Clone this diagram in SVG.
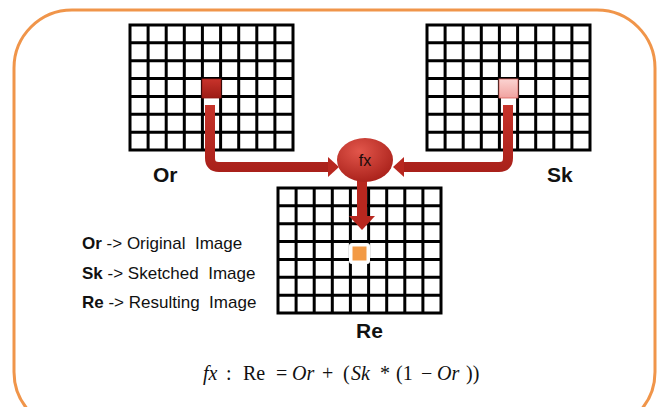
<svg xmlns="http://www.w3.org/2000/svg" width="658" height="407" viewBox="0 0 658 407">
<style>
.gl{stroke:#000;stroke-width:3;fill:none}
.lbl{font-family:"Liberation Sans",Arial,sans-serif;font-weight:bold;font-size:21px;fill:#111}
.leg{font-family:"Liberation Sans",Arial,sans-serif;font-size:17px;fill:#111}
.legb{font-weight:bold}
.arr{fill:none;stroke:url(#arrG);stroke-width:10;stroke-linejoin:round}
.eq{font-family:"Liberation Serif","Times New Roman",serif;font-size:20px;fill:#111}
.it{font-style:italic}
</style>
<defs>
<linearGradient id="arrG" gradientUnits="userSpaceOnUse" x1="0" y1="100" x2="0" y2="180">
<stop offset="0" stop-color="#c8352c"/><stop offset="1" stop-color="#a51e18"/>
</linearGradient>
<linearGradient id="redCell" x1="0" y1="0" x2="0" y2="1">
<stop offset="0" stop-color="#c8332b"/><stop offset="1" stop-color="#9c1b15"/>
</linearGradient>
<linearGradient id="pinkCell" x1="0" y1="0" x2="0" y2="1">
<stop offset="0" stop-color="#fbd3d1"/><stop offset="1" stop-color="#f1a3a0"/>
</linearGradient>
<radialGradient id="ellG" cx="0.4" cy="0.3" r="0.8">
<stop offset="0" stop-color="#e2564b"/><stop offset="1" stop-color="#a41c16"/>
</radialGradient>
<g id="grid">
<rect x="0" y="0" width="163" height="125" fill="#fff"/>
<path class="gl" d="M0,0H163V125H0Z M18.1,0V125 M36.2,0V125 M54.3,0V125 M72.4,0V125 M90.6,0V125 M108.7,0V125 M126.8,0V125 M144.9,0V125 M0,17.86H163 M0,35.71H163 M0,53.57H163 M0,71.43H163 M0,89.29H163 M0,107.14H163"/>
</g>
</defs>
<rect x="14" y="10" width="641" height="420" rx="58" ry="58" fill="#fff" stroke="#f0954a" stroke-width="3"/>
<g id="node-or">
<use href="#grid" x="130" y="25"/>
<rect x="202" y="79" width="19" height="19" fill="url(#redCell)" stroke="#8e1712" stroke-width="0.8"/>
<text class="lbl" x="153" y="182">Or</text>
</g>
<g id="node-sk">
<use href="#grid" x="427" y="25"/>
<rect x="499" y="79" width="19" height="19" fill="url(#pinkCell)" stroke="#d9605a" stroke-width="0.8"/>
<text class="lbl" x="547" y="182">Sk</text>
</g>
<g id="node-re">
<use href="#grid" x="278" y="188"/>
<rect x="349" y="243" width="21" height="21" rx="3" fill="#fff"/>
<rect x="352.5" y="246.5" width="14" height="14" fill="#f39a45"/>
<text class="lbl" x="356" y="338">Re</text>
</g>
<g id="connectors">
<path class="arr" d="M210,105V158Q210,167 219,167H330"/>
<polygon points="328,157 339,167 328,177" fill="#b8271f"/>
<path class="arr" d="M508,105V158Q508,167 499,167H402"/>
<polygon points="404,157 393,167 404,177" fill="#b8271f"/>
<path d="M362,180V218" fill="none" stroke="#b8271f" stroke-width="10"/>
<polygon points="349,216 375,216 362,230" fill="#b8271f"/>
</g>
<g id="node-fx">
<ellipse cx="365" cy="160" rx="28" ry="22" fill="url(#ellG)"/>
<text x="365" y="166" text-anchor="middle" font-family="Liberation Sans,Arial,sans-serif" font-size="16" fill="#1a0a0a">fx</text>
</g>
<g id="legend">
<text class="leg" x="82" y="249" xml:space="preserve"><tspan class="legb">Or</tspan> -&gt; Original  Image</text>
<text class="leg" x="82" y="279" xml:space="preserve"><tspan class="legb">Sk</tspan> -&gt; Sketched  Image</text>
<text class="leg" x="82" y="308" xml:space="preserve"><tspan class="legb">Re</tspan> -&gt; Resulting  Image</text>
</g>
<g id="formula">
<text class="eq" y="380"><tspan class="it" x="203">fx</tspan><tspan x="226">:</tspan><tspan x="243">Re</tspan><tspan x="276">=</tspan><tspan class="it" x="292">Or</tspan><tspan x="322">+</tspan><tspan x="343">(</tspan><tspan class="it" x="351">Sk</tspan><tspan x="380">*</tspan><tspan x="396">(1</tspan><tspan x="421">−</tspan><tspan class="it" x="437">Or</tspan><tspan x="466">))</tspan></text>
</g>
</svg>
